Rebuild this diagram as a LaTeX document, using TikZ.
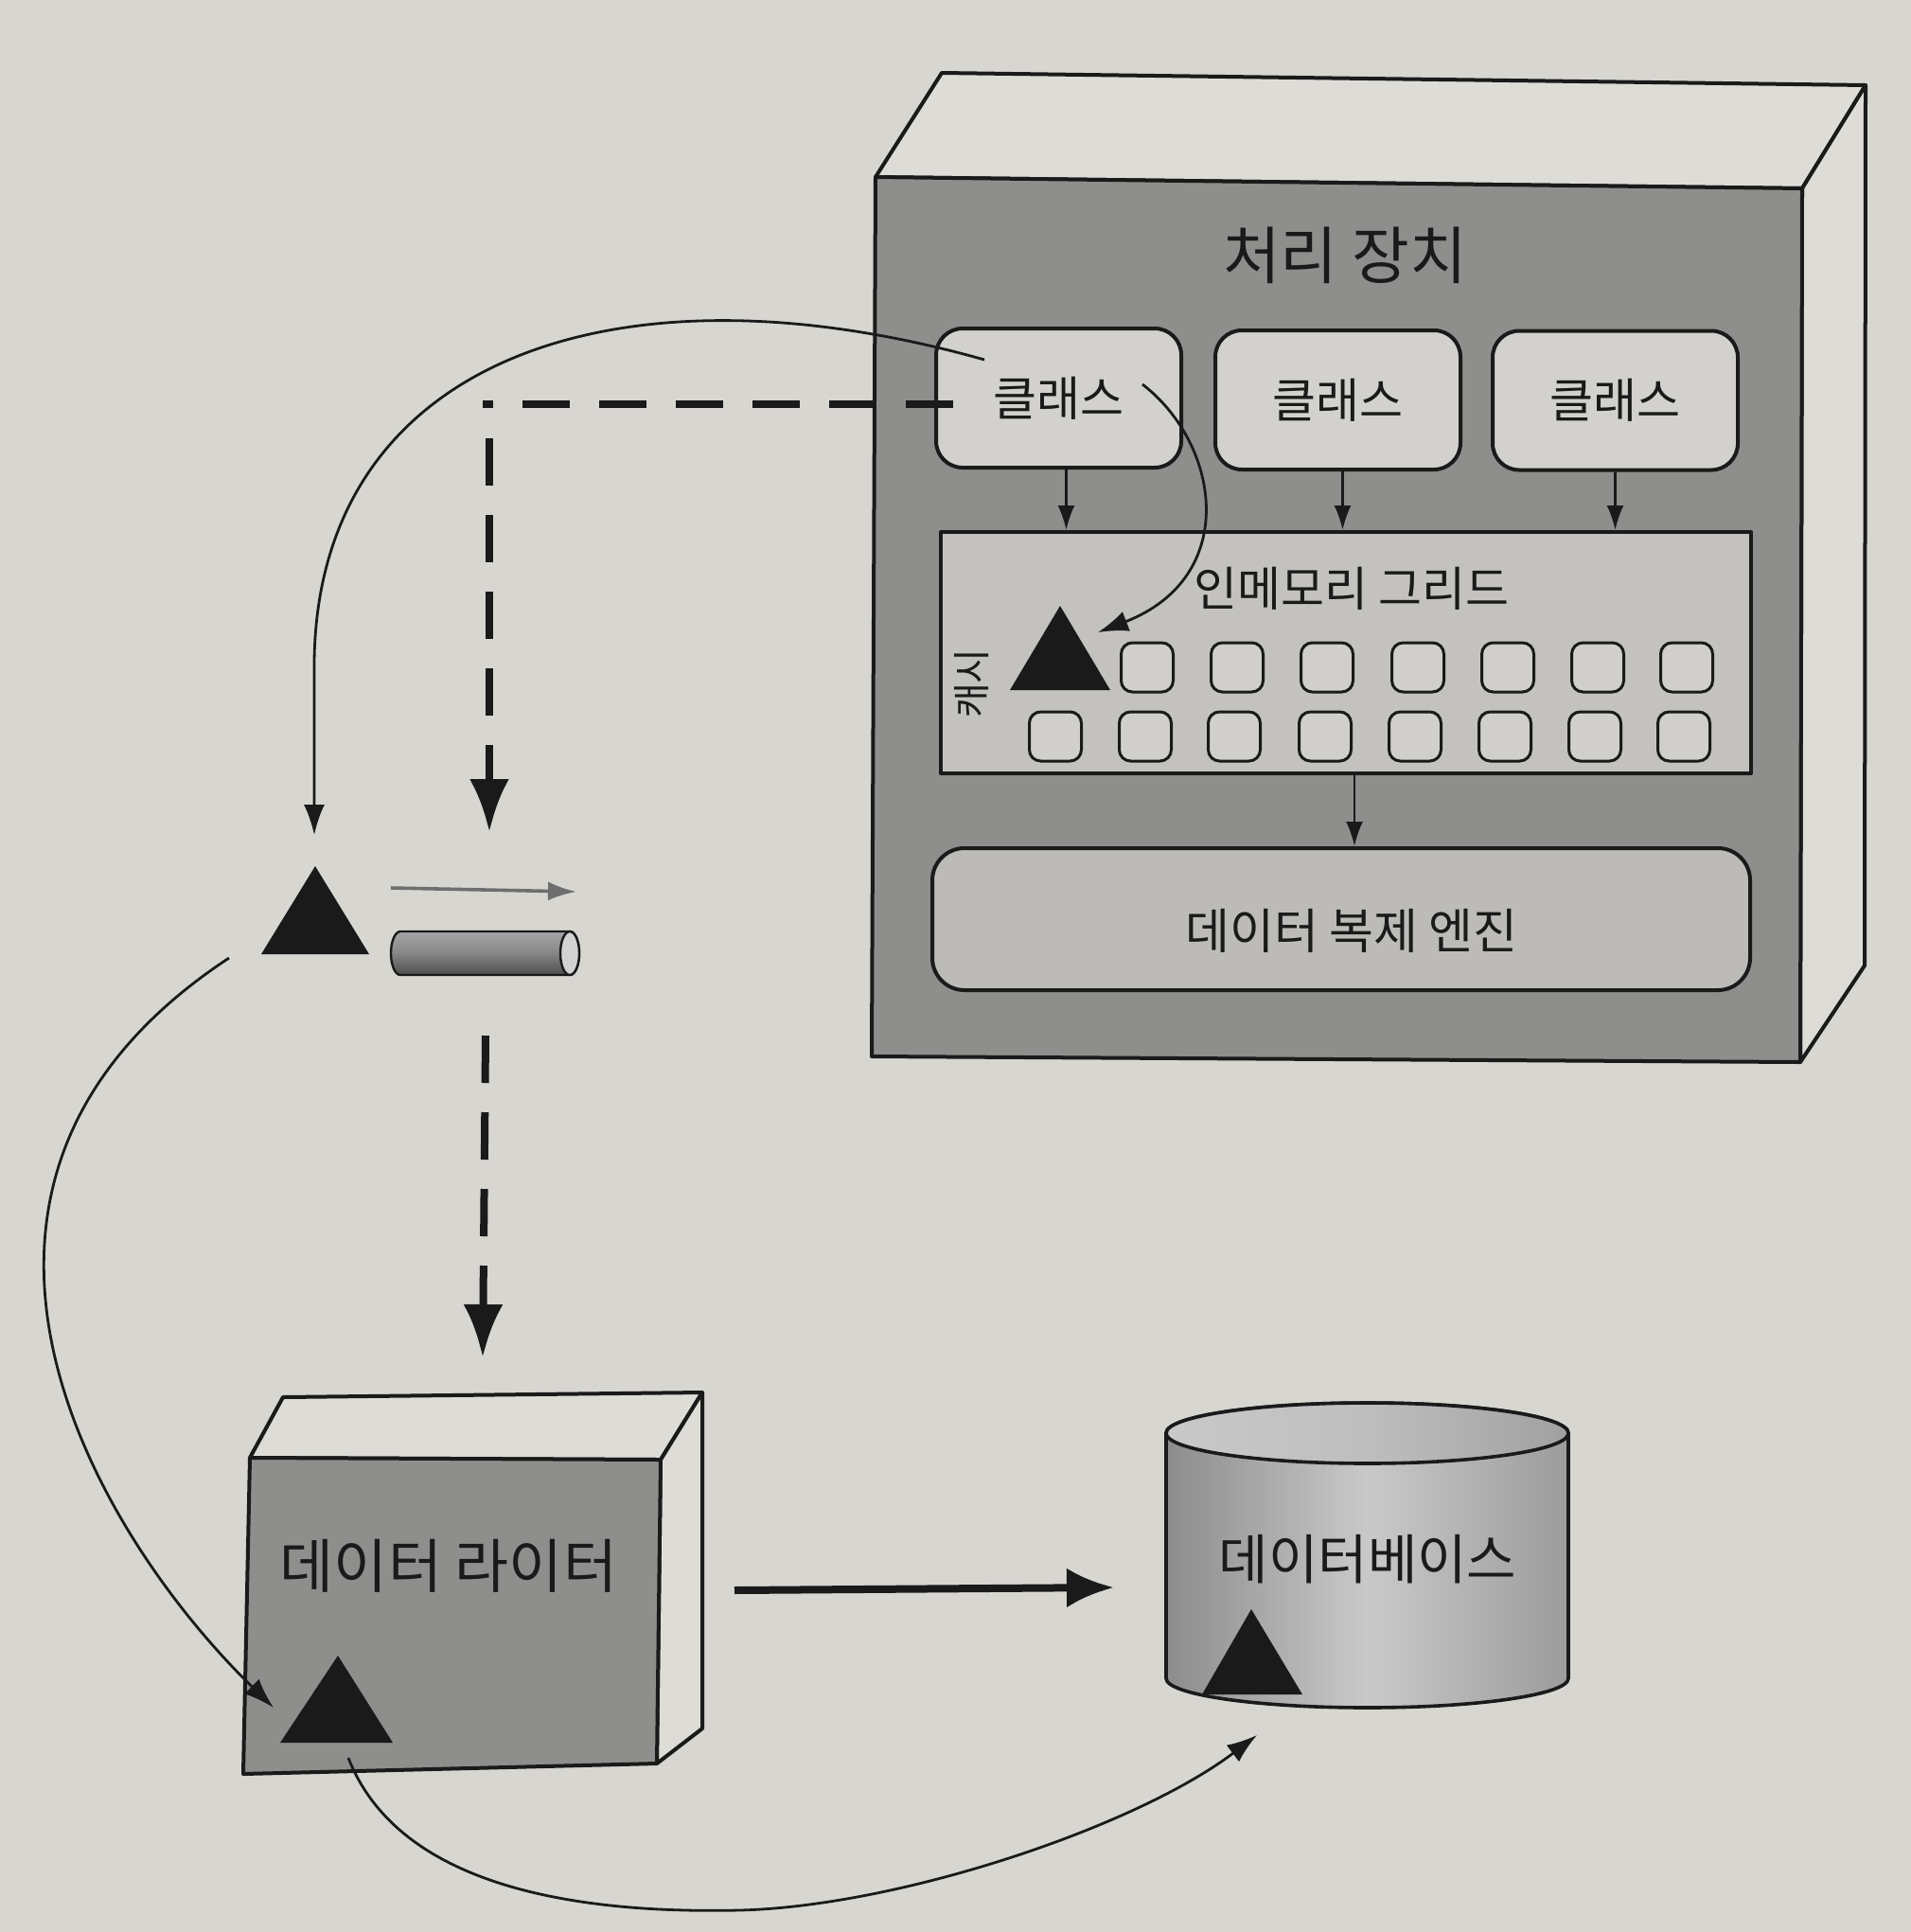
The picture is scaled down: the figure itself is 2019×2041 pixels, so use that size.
\documentclass[tikz,border=0pt]{standalone}
\usepackage{fontspec}
\setmainfont{Noto Sans CJK KR}
\usetikzlibrary{arrows.meta}
\definecolor{paper}{HTML}{D7D6D1}
\definecolor{facedark}{HTML}{8E8E8C}
\definecolor{facelight}{HTML}{DDDCD7}
\definecolor{boxlight}{HTML}{D2D1CD}
\definecolor{gridfill}{HTML}{C3C2BE}
\definecolor{engfill}{HTML}{BCBBB7}
\definecolor{cellfill}{HTML}{D0CFCB}
\definecolor{ink}{HTML}{1A1A1A}
\definecolor{arrowgray}{HTML}{6E6E6E}
\definecolor{cylA}{HTML}{8C8C8C}
\definecolor{cylB}{HTML}{C9C9C9}
\definecolor{cylC}{HTML}{9C9C9C}
\begin{document}
\begin{tikzpicture}[x=0.5pt,y=-0.5pt,
  outline/.style={draw=ink,line width=2pt,line join=round},
  classbox/.style={outline,fill=boxlight,rounded corners=14pt,minimum width=129.5pt,minimum height=73.5pt,inner sep=0pt,text=ink,font=\fontsize{25pt}{29pt}\selectfont},
  cell/.style={draw=ink,line width=1.5pt,fill=cellfill,rounded corners=6pt,minimum width=27.5pt,minimum height=26pt,inner sep=0pt},
  lbl/.style={inner sep=0pt,text=ink},
  thinarrow/.style={draw=ink,line width=1.3pt,-{Latex[length=13pt,width=9pt]}},
  curvearrow/.style={draw=ink,line width=1.4pt,-{Latex[length=16pt,width=11pt]}},
  dashline/.style={draw=ink,line width=4pt,dash pattern=on 25pt off 15.5pt},
  dasharrow/.style={dashline,-{Latex[length=28pt,width=21pt]}},
  boldarrow/.style={draw=ink,line width=4pt,-{Latex[length=25pt,width=21pt]}},
  grayarrow/.style={draw=arrowgray,line width=1.8pt,-{Latex[length=15pt,width=10pt]}}
]
\useasboundingbox (0,0) rectangle (2019,2041);
\fill[paper] (0,0) rectangle (2019,2041);

% ---------------- processing unit (3D box)
\coordinate (pFTL) at (925,187);
\coordinate (pFTR) at (1904,199);
\coordinate (pFBR) at (1902,1122);
\coordinate (pFBL) at (921,1116);
\coordinate (pBTL) at (995,77);
\coordinate (pBTR) at (1971,90);
\coordinate (pBBR) at (1970,1020);
\filldraw[outline,fill=facelight] (pFTL) -- (pBTL) -- (pBTR) -- (pFTR) -- cycle;
\filldraw[outline,fill=facelight] (pFTR) -- (pBTR) -- (pBBR) -- (pFBR) -- cycle;
\filldraw[outline,fill=facedark] (pFTL) -- (pFTR) -- (pFBR) -- (pFBL) -- cycle;
\node[lbl,font=\fontsize{33pt}{37pt}\selectfont] (ptitle) at (1421,270) {처리 장치};

% classes
\node[classbox] (c1) at (1118.5,420.5) {클래스};
\node[classbox] (c2) at (1413.5,422.5) {클래스};
\node[classbox] (c3) at (1706.5,423) {클래스};

% in-memory grid
\node[outline,fill=gridfill,minimum width=428pt,minimum height=127.5pt,inner sep=0pt] (grid) at (1422,689.5) {};
\node[lbl,font=\fontsize{25pt}{29pt}\selectfont] (gridlbl) at (1428,622) {인메모리 그리드};
\node[lbl,rotate=90,font=\fontsize{20pt}{22pt}\selectfont] (cachelbl) at (1027,722) {캐시};
\fill[ink] (1120,640) -- (1173,729) -- (1067,729) -- cycle;
\coordinate (gtri) at (1160,668);
\foreach \x [count=\i] in {1212,1307,1402,1498,1593,1688,1782}
  \node[cell] (ra\i) at (\x,705) {};
\foreach \x [count=\i] in {1115,1210,1304,1400,1495,1590,1685,1779}
  \node[cell] (rb\i) at (\x,778) {};

% replication engine
\node[outline,fill=engfill,rounded corners=17pt,minimum width=432pt,minimum height=75pt,inner sep=0pt] (engine) at (1417,971) {};
\node[lbl,font=\fontsize{25.5pt}{29pt}\selectfont] (englbl) at (1428,983) {데이터 복제 엔진};

% arrows inside processing unit
\draw[thinarrow] (c1.south) ++(8,0) coordinate (c1s) -- (c1s |- grid.north);
\draw[thinarrow] (c2.south) ++(5,0) coordinate (c2s) -- (c2s |- grid.north);
\draw[thinarrow] (c3.south) -- (c3.south |- grid.north);
\draw[thinarrow] (grid.south) ++(9,0) coordinate (gs) -- (gs |- engine.north);
\coordinate (cA) at (1207,406);
\draw[curvearrow] (cA) .. controls (1290,470) and (1310,610) .. (gtri);

% ---------------- left: triangle, gray arrow, small cylinder
\fill[ink] (333,915) -- (390,1008) -- (276,1008) -- cycle;
\coordinate (t1top) at (332,882);
\coordinate (t1low) at (242,1012);
\coordinate (ga1) at (413,938);
\coordinate (ga2) at (609,942);
\draw[grayarrow] (ga1) -- (ga2);
\shade[top color=gray!70, bottom color=black!70, middle color=gray!95, draw=ink, line width=1.2pt]
  (602,984) -- (423,984) arc[start angle=90, end angle=270, x radius=5pt, y radius=11.5pt]
  -- (602,1030) arc[start angle=270, end angle=450, x radius=5pt, y radius=11.5pt] -- cycle;
\filldraw[fill=gray!35, draw=ink, line width=1.2pt] (602,1007) ellipse [x radius=5pt, y radius=11.5pt];

% big curve from class to left triangle
\coordinate (cB) at (1040,380);
\draw[curvearrow] (cB) .. controls (650,270) and (335,380) .. (332,700) -- (t1top);

% dashed path
\coordinate (dA) at (1007,427);
\coordinate (dB) at (510,427);
\coordinate (dC) at (517,463);
\coordinate (dD) at (517,879);
\draw[dashline] (dA) -- (dB);
\draw[dasharrow] (dC) -- (dD);
\coordinate (dE) at (513,1094);
\coordinate (dF) at (510,1434);
\draw[dasharrow] (dE) -- (dF);

% ---------------- data writer (3D box)
\coordinate (wFTL) at (264,1540);
\coordinate (wFTR) at (698,1542);
\coordinate (wFBR) at (694,1863);
\coordinate (wFBL) at (257,1874);
\coordinate (wBTL) at (299,1476);
\coordinate (wBTR) at (742,1471);
\coordinate (wBBR) at (742,1826);
\filldraw[outline,fill=facelight] (wFTL) -- (wBTL) -- (wBTR) -- (wFTR) -- cycle;
\filldraw[outline,fill=facelight] (wFTR) -- (wBTR) -- (wBBR) -- (wFBR) -- cycle;
\filldraw[outline,fill=facedark] (wFTL) -- (wFTR) -- (wFBR) -- (wFBL) -- cycle;
\node[lbl,font=\fontsize{31pt}{35pt}\selectfont] (writer) at (474,1654) {데이터 라이터};
\fill[ink] (357,1749) -- (415,1841) -- (296,1841) -- cycle;
\coordinate (wIn) at (289,1804);
\coordinate (wOut) at (368,1857);

% ---------------- database cylinder
\shade[left color=cylA, right color=cylC, middle color=cylB, draw=ink, line width=1.8pt]
  (1232,1514) -- (1232,1773) arc[start angle=180, end angle=360, x radius=106.25pt, y radius=15.5pt]
  -- (1657,1514) arc[start angle=0, end angle=180, x radius=106.25pt, y radius=16pt] -- cycle;
\shade[left color=cylB, right color=cylB!80!black, middle color=cylB!85!gray, draw=ink, line width=1.8pt]
  (1444.5,1514) ellipse [x radius=106.25pt, y radius=16pt];
\node[lbl,font=\fontsize{28.5pt}{32pt}\selectfont] (db) at (1445,1647) {데이터베이스};
\fill[ink] (1322,1700) -- (1376,1790) -- (1270,1790) -- cycle;
\coordinate (dbIn) at (1328,1833);

% writer -> database
\coordinate (wr) at (776,1680);
\coordinate (dbl) at (1177,1677);
\draw[boldarrow] (wr) -- (dbl);

% curve from left triangle to writer
\draw[curvearrow] (t1low) .. controls (-120,1250) and (100,1620) .. (wIn);

% curve from writer to database
\draw[curvearrow] (wOut) .. controls (420,1990) and (600,2022) .. (781,2018)
  .. controls (950,2014) and (1200,1930) .. (dbIn);
\end{tikzpicture}
\end{document}
